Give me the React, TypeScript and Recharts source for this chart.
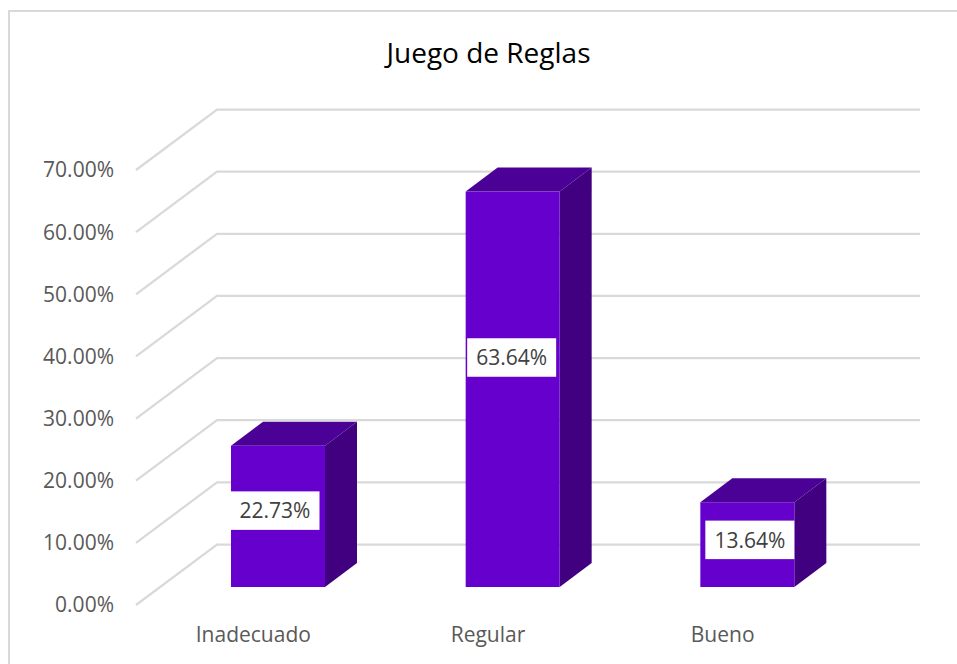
import { BarChart, Bar, XAxis, YAxis, CartesianGrid, LabelList } from "recharts";

const categories = ["Inadecuado", "Regular", "Bueno"];
const values = [22.73, 63.64, 13.64];
const yTicks = [0, 10, 20, 30, 40, 50, 60, 70];

const data = categories.map((name, i) => ({ name, value: values[i] }));

const FONT = "'Open Sans', sans-serif";
const FRONT = "#6600cc";
const TOP = "#4b0096";
const SIDE = "#400080";

// fake 3d: depth of the box and how far it sits inside the floor
const DEPTH_X = 32;
const DEPTH_Y = 24;
const SHIFT_X = 25;
const SHIFT_Y = -18;
const LABEL_DX = [-3, -1, 2.5];
const LABEL_Y = [-6, -32, -5];

const Box3D = (props: any) => {
	const { x, y, width, height } = props;
	const left = x + SHIFT_X;
	const top = y + SHIFT_Y;
	const right = left + width;
	const bottom = top + height;
	return (
		<g>
			<path
				d={`M${left} ${top} l${DEPTH_X} ${-DEPTH_Y} H${right + DEPTH_X} L${right} ${top} Z`}
				fill={TOP}
			/>
			<path
				d={`M${right} ${top} l${DEPTH_X} ${-DEPTH_Y} V${bottom - DEPTH_Y} L${right} ${bottom} Z`}
				fill={SIDE}
			/>
			<rect x={left} y={top} width={width} height={height} fill={FRONT} />
		</g>
	);
};

const BoxLabel = (props: any) => {
	const { x, y, width, height, value, index } = props;
	const cx = x + SHIFT_X + width / 2 + LABEL_DX[index];
	const cy = y + SHIFT_Y + height / 2 + LABEL_Y[index];
	return (
		<g>
			<rect x={cx - 44.5} y={cy - 19} width={89} height={38.5} fill="#fff" />
			<text
				x={cx}
				y={cy}
				textAnchor="middle"
				dominantBaseline="central"
				fontFamily={FONT}
				fontSize={21}
				fill="#404040"
			>
				{`${value.toFixed(2)}%`}
			</text>
		</g>
	);
};

const WallLine = (props: any) => {
	const { x1, y1, index } = props;
	return (
		<path
			key={index}
			d={`M${x1} ${y1} l81 -60.5 H920`}
			fill="none"
			stroke="#d9d9d9"
			strokeWidth={2.25}
		/>
	);
};

const App = () => {
	return (
		<div style={{ position: "absolute", left: 0, top: 0, width: 957, height: 664, background: "#fff", overflow: "hidden" }}>
			<div
				style={{
					position: "absolute",
					left: 8,
					top: 10,
					width: 960,
					height: 670,
					border: "2px solid #d9d9d9",
					boxSizing: "border-box",
				}}
			/>
			<div
				style={{
					position: "absolute",
					left: 0,
					top: 32,
					width: 977,
					textAlign: "center",
					fontFamily: FONT,
					fontSize: 28,
					lineHeight: "40px",
					color: "#000",
				}}
			>
				Juego de Reglas
			</div>
			<div style={{ position: "absolute", left: 0, top: 0 }}>
				<BarChart
					width={957}
					height={664}
					data={data}
					margin={{ top: 170, right: 117, bottom: 0, left: 0 }}
					barSize={94}
				>
					<CartesianGrid vertical={false} horizontal={(p: any) => <WallLine {...p} />} />
					<XAxis
						dataKey="name"
						axisLine={false}
						tickLine={false}
						height={59}
						tickMargin={16}
						tick={{ fontFamily: FONT, fontSize: 21, fill: "#595959" }}
					/>
					<YAxis
						domain={[0, 70]}
						ticks={yTicks}
						width={136}
						axisLine={false}
						tickLine={false}
						tickMargin={16}
						tickFormatter={(v: number) => `${v.toFixed(2)}%`}
						tick={{ fontFamily: FONT, fontSize: 21, fill: "#595959" }}
					/>
					<Bar dataKey="value" shape={<Box3D />} isAnimationActive={false}>
						<LabelList dataKey="value" content={<BoxLabel />} />
					</Bar>
				</BarChart>
			</div>
		</div>
	);
};

export default App;
